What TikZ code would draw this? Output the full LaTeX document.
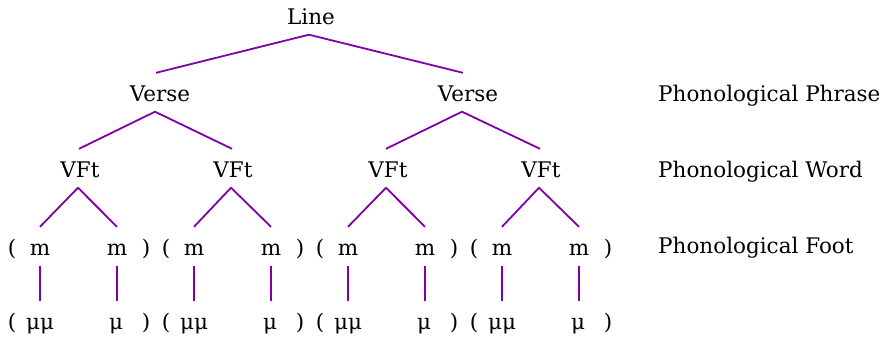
\documentclass[tikz,border=0pt]{standalone}
\usepackage{fontspec}
\setmainfont{DejaVu Serif}
\definecolor{treepurple}{RGB}{128,0,165}
\begin{document}
\begin{tikzpicture}[x=1pt,y=-1pt,
  lbl/.style={font=\fontsize{21.5}{24}\selectfont, inner xsep=0pt, inner ysep=4pt,
              text height=24pt, text depth=6.5pt, anchor=base},
  lvl/.style={font=\fontsize{21.5}{24}\selectfont, inner sep=0pt, anchor=base west},
  edge/.style={draw=treepurple, line width=1.8pt}]
\useasboundingbox (0,0) rectangle (885,341);
% top levels
\node[lbl] (line) at (311,24) {Line};
\node[lbl] (v1) at (160,101) {Verse};
\node[lbl] (v2) at (468,101) {Verse};
\node[lbl] (f1) at (80,177) {VFt};
\node[lbl] (f2) at (233,177) {VFt};
\node[lbl] (f3) at (388,177) {VFt};
\node[lbl] (f4) at (541,177) {VFt};
\draw[edge] ([xshift=-2pt]line.south) -- ([xshift=-4pt]v1.north);
\draw[edge] ([xshift=-2pt]line.south) -- ([xshift=-5pt]v2.north);
\draw[edge] ([xshift=-5pt]v1.south) -- ([xshift=-1pt]f1.north);
\draw[edge] ([xshift=-5pt]v1.south) -- ([xshift=-1pt]f2.north);
\draw[edge] ([xshift=-6pt]v2.south) -- ([xshift=-2pt]f3.north);
\draw[edge] ([xshift=-6pt]v2.south) -- ([xshift=-1pt]f4.north);
% feet and moras
\foreach \k/\o in {1/0,2/154,3/308,4/462}{
  \node[lbl] (ol\k) at (12+\o,255) {(};
  \node[lbl] (ma\k) at (40+\o,255) {m};
  \node[lbl] (mb\k) at (117+\o,255) {m};
  \node[lbl] (cl\k) at (146+\o,255) {)};
  \node[lbl] (pl\k) at (12+\o,329) {(};
  \node[lbl] (ua\k) at (40+\o,329) {μμ};
  \node[lbl] (ub\k) at (116+\o,329) {μ};
  \node[lbl] (pr\k) at (146+\o,329) {)};
  \draw[edge] ([xshift=-2pt]f\k.south) -- (ma\k.north);
  \draw[edge] ([xshift=-2pt]f\k.south) -- (mb\k.north);
  \draw[edge] (ma\k.south) -- (ua\k.north);
  \draw[edge] (mb\k.south) -- ([xshift=1pt]ub\k.north);
}
% level labels
\node[lvl] (pp) at (658,101) {Phonological Phrase};
\node[lvl] (pw) at (658,177) {Phonological Word};
\node[lvl] (pf) at (658,253) {Phonological Foot};
\end{tikzpicture}
\end{document}
